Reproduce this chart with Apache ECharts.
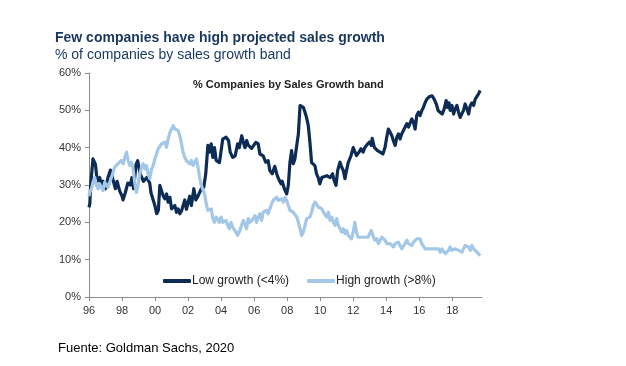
<!DOCTYPE html>
<html>
<head>
<meta charset="utf-8">
<script src="https://cdn.jsdelivr.net/npm/echarts@6/dist/echarts.min.js"></script>
<style>
html,body{margin:0;padding:0;background:#fff;}
#chart{width:626px;height:366px;}
</style>
</head>
<body>
<div id="chart"></div>
<script>
// ---- Data ----
const tickYears = [1996, 1998, 2000, 2002, 2004, 2006, 2008, 2010, 2012, 2014, 2016, 2018];
const yTicks = [0, 10, 20, 30, 40, 50, 60];

const lowX = [1996.0,1996.05,1996.1,1996.24,1996.39,1996.5,1996.65,1996.75,1996.85,1997.0,1997.15,1997.3,1997.45,1997.6,1997.7,1997.85,1998.0,1998.06,1998.2,1998.35,1998.5,1998.6,1998.7,1998.85,1998.95,1999.1,1999.3,1999.5,1999.68,1999.75,1999.85,1999.99,2000.1,2000.2,2000.29,2000.4,2000.5,2000.59,2000.7,2000.79,2000.9,2001.0,2001.1,2001.2,2001.3,2001.4,2001.5,2001.6,2001.7,2001.8,2001.9,2002.1,2002.2,2002.35,2002.47,2002.6,2002.8,2002.95,2003.07,2003.2,2003.3,2003.4,2003.5,2003.6,2003.7,2003.9,2004.0,2004.1,2004.3,2004.45,2004.55,2004.7,2004.85,2005.0,2005.1,2005.25,2005.35,2005.45,2005.55,2005.65,2005.75,2005.85,2005.95,2006.1,2006.25,2006.35,2006.45,2006.55,2006.7,2006.85,2006.95,2007.1,2007.25,2007.4,2007.55,2007.63,2007.7,2007.83,2007.97,2008.07,2008.17,2008.27,2008.37,2008.47,2008.58,2008.68,2008.78,2008.88,2008.98,2009.08,2009.18,2009.28,2009.38,2009.48,2009.58,2009.68,2009.78,2009.88,2009.98,2010.1,2010.2,2010.4,2010.6,2010.75,2010.86,2010.96,2011.06,2011.2,2011.3,2011.4,2011.5,2011.6,2011.7,2011.87,2012.0,2012.1,2012.2,2012.35,2012.47,2012.6,2012.7,2012.87,2013.0,2013.1,2013.15,2013.28,2013.47,2013.63,2013.8,2013.93,2014.03,2014.13,2014.24,2014.34,2014.43,2014.54,2014.64,2014.74,2014.84,2014.94,2015.04,2015.14,2015.25,2015.35,2015.45,2015.55,2015.65,2015.75,2015.85,2015.95,2016.05,2016.15,2016.25,2016.36,2016.46,2016.62,2016.78,2016.9,2017.03,2017.15,2017.27,2017.39,2017.51,2017.63,2017.71,2017.8,2017.87,2017.98,2018.08,2018.18,2018.28,2018.38,2018.48,2018.58,2018.68,2018.78,2018.89,2018.99,2019.09,2019.19,2019.29,2019.39,2019.49,2019.59,2019.69];
const lowY = [24,25,30,37,35.5,31,32,30,31,29,32,34,31.5,29,31,28.5,27,26,28,30.5,30,32,29,35.5,36.5,33,31,32,30.5,28,26.5,24.5,22.3,23.2,29.9,29.4,27,26.3,27.6,25.4,26.7,23.6,23.2,24.5,22.7,23.6,22.3,23,24.5,26,23.5,27,24.5,29,26,27,29,29.4,33,40.6,38.8,41,37.4,40,36.6,36,36,42.3,42.8,41.9,38.8,37.4,37.8,41,40,43.2,41.4,40,41.9,40.6,41,39.8,40,41.4,41,38.3,38.8,37.8,36.1,36.5,33.9,33,35,32.5,31,30.3,31,29,27.6,29.9,36.1,39.2,35.7,37,40.6,43.7,51.3,51.7,50.8,49.5,48,45.9,41.4,36,36.4,35.2,33,32,30.3,32,31.5,32.5,32,33,31,29.9,33.9,36.1,34.8,33.9,31.7,34,36,37.9,40,39.7,37.9,38.8,39.7,38.8,40,41,41.5,40.6,42.5,40.1,39.2,38.8,38.3,40.1,42.8,45,44.1,43.2,41.9,40.6,42.8,43.7,42.3,43.7,44.6,45.5,46.4,45.5,46,47.7,46.8,45,48.6,49.5,48.6,49.9,50.8,52.1,53,53.7,53.9,53,51.7,49.9,49.5,49,50.4,52.6,50.8,52,50,51.3,49,50.4,51.3,49.5,48.1,47.7,50,51.7,50.4,49,51.3,52,51.3,53,52.6,54.4,55.3];

const highX = [1996.0,1996.05,1996.15,1996.24,1996.35,1996.45,1996.55,1996.65,1996.75,1996.85,1996.95,1997.05,1997.15,1997.25,1997.36,1997.46,1997.56,1997.66,1997.76,1997.86,1997.96,1998.07,1998.17,1998.27,1998.37,1998.47,1998.57,1998.67,1998.77,1998.87,1998.97,1999.08,1999.18,1999.28,1999.38,1999.48,1999.58,1999.68,1999.79,1999.89,1999.99,2000.09,2000.19,2000.29,2000.39,2000.49,2000.59,2000.69,2000.79,2000.9,2001.0,2001.1,2001.2,2001.3,2001.4,2001.5,2001.6,2001.7,2001.8,2001.9,2002.0,2002.1,2002.2,2002.3,2002.4,2002.5,2002.6,2002.7,2002.8,2002.9,2003.0,2003.1,2003.2,2003.3,2003.4,2003.5,2003.6,2003.7,2003.8,2003.9,2004.0,2004.1,2004.2,2004.3,2004.4,2004.5,2004.6,2004.7,2004.8,2004.9,2005.0,2005.14,2005.24,2005.34,2005.44,2005.54,2005.64,2005.74,2005.85,2005.95,2006.05,2006.15,2006.25,2006.35,2006.45,2006.55,2006.65,2006.75,2006.85,2006.95,2007.06,2007.16,2007.26,2007.36,2007.46,2007.56,2007.67,2007.77,2007.87,2007.97,2008.07,2008.17,2008.27,2008.37,2008.47,2008.58,2008.68,2008.78,2008.88,2008.98,2009.08,2009.18,2009.28,2009.38,2009.48,2009.58,2009.69,2009.79,2009.89,2009.99,2010.1,2010.2,2010.3,2010.4,2010.5,2010.6,2010.7,2010.8,2010.9,2011.0,2011.1,2011.2,2011.3,2011.4,2011.5,2011.6,2011.7,2011.8,2011.9,2012.0,2012.1,2012.2,2012.3,2012.4,2012.5,2012.6,2012.7,2012.8,2012.9,2013.0,2013.1,2013.2,2013.3,2013.43,2013.53,2013.63,2013.73,2013.83,2013.93,2014.03,2014.13,2014.24,2014.34,2014.44,2014.54,2014.64,2014.74,2014.84,2014.94,2015.04,2015.14,2015.25,2015.35,2015.45,2015.55,2015.65,2015.75,2015.85,2015.95,2016.05,2016.15,2016.25,2016.36,2016.46,2016.56,2016.66,2016.76,2016.86,2016.96,2017.07,2017.17,2017.27,2017.37,2017.47,2017.57,2017.67,2017.77,2017.87,2017.97,2018.07,2018.18,2018.28,2018.38,2018.48,2018.58,2018.68,2018.78,2018.88,2018.99,2019.09,2019.19,2019.29,2019.39,2019.49,2019.59,2019.69];
const highY = [27,28,29,30.7,32,29.9,29,30.3,30.7,28.5,30.7,30.3,29.4,30.7,32,33.4,34.8,34.3,35.7,35.2,36.6,35.7,37.4,38.8,36.6,35.2,36.1,34.3,30.7,28,29.9,33,34.8,35.7,34.3,35.2,33,31.7,34.3,35.2,37,38.3,39.7,40.1,41,40.6,41.5,40.1,42.3,44.1,45,45.9,45,45.5,44.6,43.2,41,38.8,37.4,36.5,36.1,35.7,36.6,35.2,36.1,37,34.8,32,29.9,29.9,27.6,25,23.2,23,23.6,21,20,21.4,21,20,21.4,20,19.6,20.5,19.2,18.3,20,18.7,18.3,17.4,16.5,17.8,19.2,20.5,19.6,18.3,21,20,19.6,21,21.8,20,21.4,22.3,20.5,22.7,22.3,23.2,22.3,23.6,25,25.9,25.4,26.7,25.9,26.3,26.3,25.4,26.7,25.9,24.5,23.2,23.6,22.7,23.2,21.4,20,18.3,16.5,17.4,19.2,21,20.5,21.4,22.7,24.5,25.4,25,24.1,24.5,23.6,22.7,23.2,21.4,22.7,20.5,21.4,20,19.2,21,19.2,18.3,17.4,18.3,17,17.8,16.5,16,15.6,17.4,20,17.4,16,15.6,16,15.6,16,15.6,16,17,17.8,16.5,15.2,15.6,14.3,15.2,16,16.5,15.2,14.3,13.8,14.3,13.8,13.4,14.3,13.8,14.7,13.8,12.9,13.4,14.3,15.2,14.3,14.7,13.8,14.7,15.2,15.6,15.2,15.6,14.3,13.8,12.9,13.4,12.9,13.4,12.9,13.4,12.9,12.5,12.9,12,12.9,12.5,11.6,11.1,12.5,13.4,12.5,12,12.9,13.4,12.5,12.9,12,12.9,13.8,14.3,13.4,12.5,13.8,12.9,12.5,12,11.6,11.1];

const seriesNames = ['Low growth (<4%)', 'High growth (>8%)'];

const pairs = (xs, ys) => xs.map((x, i) => [x, ys[i]]);

const chart = echarts.init(document.getElementById('chart'), null, {renderer: 'canvas'});
const axisFont = 'Liberation Sans, Arial, sans-serif';

chart.setOption({
  animation: false,
  backgroundColor: '#ffffff',
  title: [
    {text: 'Few companies have high projected sales growth', left: 55, top: 31, padding: 0,
     textStyle: {fontFamily: axisFont, fontSize: 14, fontWeight: 'bold', color: '#17375e'}},
    {text: '% of companies by sales growth band', left: 55, top: 48, padding: 0,
     textStyle: {fontFamily: axisFont, fontSize: 14, fontWeight: 'normal', color: '#17375e'}},
    {text: '% Companies by Sales Growth band', left: 193, top: 79, padding: 0,
     textStyle: {fontFamily: axisFont, fontSize: 11, fontWeight: 'bold', color: '#222'}},
    {text: 'Fuente: Goldman Sachs, 2020', left: 58, top: 342, padding: 0,
     textStyle: {fontFamily: axisFont, fontSize: 13, fontWeight: 'normal', color: '#000'}}
  ],
  legend: {
    left: 163, top: 275, padding: 0,
    itemWidth: 28, itemHeight: 4, itemGap: 18,
    icon: 'roundRect',
    textStyle: {fontFamily: axisFont, fontSize: 12, color: '#222', padding: [0, 0, 0, -4]},
    data: seriesNames
  },
  grid: {left: 89, right: 144, top: 73, bottom: 69, outerBoundsMode: 'none'},
  xAxis: {
    type: 'value', min: 1996, max: 2019.8, interval: 2,
    splitLine: {show: false},
    axisLine: {lineStyle: {color: '#8c8c8c', width: 1}},
    axisTick: {show: true, length: 4, lineStyle: {color: '#8c8c8c'}, customValues: tickYears},
    axisLabel: {
      customValues: tickYears,
      fontFamily: axisFont, fontSize: 11, color: '#333', margin: 8,
      formatter: v => String(Math.round(v) % 100).padStart(2, '0')
    }
  },
  yAxis: {
    type: 'value', min: 0, max: 60, interval: 10,
    splitLine: {show: false},
    axisLine: {show: true, lineStyle: {color: '#8c8c8c', width: 1}},
    axisTick: {show: true, length: 4, lineStyle: {color: '#8c8c8c'}},
    axisLabel: {fontFamily: axisFont, fontSize: 11, color: '#333', margin: 8, formatter: '{value}%'}
  },
  series: [
    {name: seriesNames[0], type: 'line', data: pairs(lowX, lowY), showSymbol: false,
     color: '#0d2c55', lineStyle: {width: 3.2, color: '#0d2c55', join: 'round'}},
    {name: seriesNames[1], type: 'line', data: pairs(highX, highY), showSymbol: false,
     color: '#a3c7e7', lineStyle: {width: 3.2, color: '#a3c7e7', join: 'round'}}
  ]
});
</script>
</body>
</html>
